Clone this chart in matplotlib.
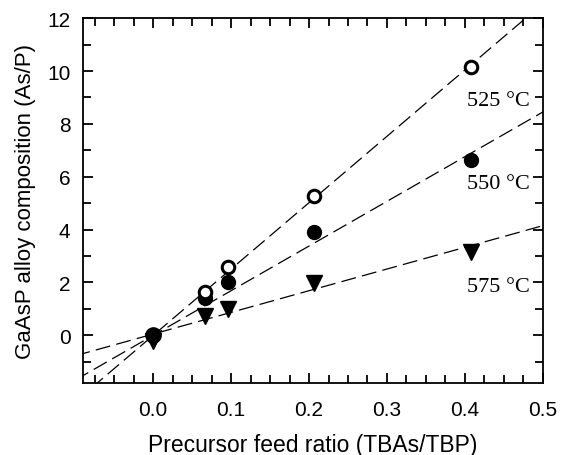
import numpy as np
import matplotlib
matplotlib.use("Agg")
import matplotlib.pyplot as plt
from matplotlib.ticker import MultipleLocator

# --- data ---
feed_ratio = [0.0, 0.067, 0.096, 0.206, 0.408]
as_p_525 = [0.0, 1.65, 2.6, 5.27, 10.15]
as_p_550 = [0.0, 1.4, 2.03, 3.92, 6.62]
as_p_575 = [-0.2, 0.72, 0.98, 1.98, 3.15]

# fitted lines (slope, intercept)
fit_525 = (25.1, 0.0)
fit_550 = (16.9, 0.0)
fit_575 = (8.2, 0.05)

labels = ["525 °C", "550 °C", "575 °C"]
label_y = [8.9, 5.75, 1.85]

fig = plt.figure(figsize=(5.69, 4.56), dpi=100)
ax = fig.add_axes([0.146, 0.158, 0.808, 0.800])

xline = np.array([-0.1, 0.55])
dash = (0, (12, 5))
for slope, icpt in (fit_525, fit_550, fit_575):
    ax.plot(xline, slope * xline + icpt, color="black", lw=0.9, linestyle=dash, zorder=1)

ax.plot(feed_ratio, as_p_575, linestyle="none", marker="v", ms=11,
        color="black", zorder=3)
ax.plot(feed_ratio[1:], as_p_550[1:], linestyle="none", marker="o", ms=10,
        color="black", zorder=3)
ax.plot(feed_ratio[1:], as_p_525[1:], linestyle="none", marker="o", ms=9,
        mfc="white", mec="black", mew=2.2, zorder=4)
# origin point: filled circle drawn on top
ax.plot(feed_ratio[:1], as_p_550[:1], linestyle="none", marker="o", ms=11,
        color="black", zorder=5)

serif = ["Liberation Serif", "DejaVu Serif"]
for txt, yy in zip(labels, label_y):
    ax.text(0.484, yy, txt, family=serif, fontsize=16, ha="right", va="center")

ax.set_xlim(-0.09, 0.5)
ax.set_ylim(-1.8, 12)
ax.xaxis.set_major_locator(MultipleLocator(0.1))
ax.xaxis.set_minor_locator(MultipleLocator(0.025))
ax.yaxis.set_major_locator(MultipleLocator(2))
ax.yaxis.set_minor_locator(MultipleLocator(1))
ax.set_xticks([0.0, 0.1, 0.2, 0.3, 0.4, 0.5])
ax.set_xticklabels(["0.0", "0.1", "0.2", "0.3", "0.4", "0.5"])

sans = "Liberation Sans"
ax.tick_params(which="both", direction="in", top=True, right=True, width=1.3,
               labelsize=15)
ax.tick_params(axis="x", which="major", pad=12)
ax.tick_params(axis="y", which="major", pad=9)
ax.tick_params(which="major", length=7)
ax.tick_params(which="minor", length=6)
for lab in ax.get_xticklabels() + ax.get_yticklabels():
    lab.set_family(sans)
for sp in ax.spines.values():
    sp.set_linewidth(1.3)

ax.set_xlabel("Precursor feed ratio (TBAs/TBP)", family=sans, fontsize=16.5, labelpad=10)
ax.set_ylabel("GaAsP alloy composition (As/P)", family=sans, fontsize=16, labelpad=8)

fig.savefig("out.png", dpi=100)
